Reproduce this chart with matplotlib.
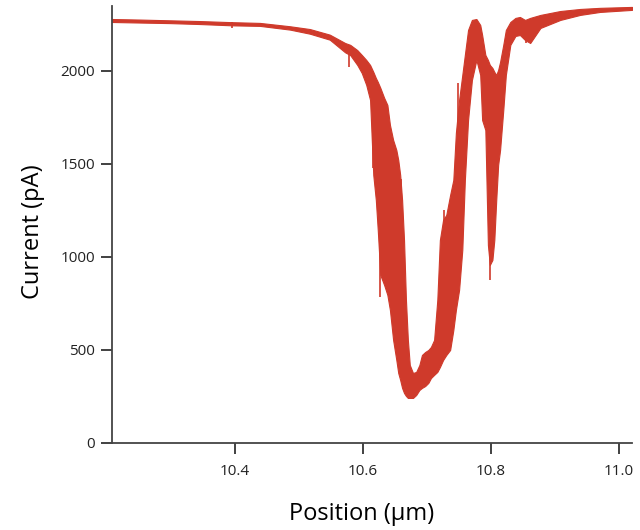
import numpy as np
import matplotlib
matplotlib.use("Agg")
import matplotlib.pyplot as plt

plt.rcParams['font.family'] = ['Open Sans', 'DejaVu Sans']

# position (um) and the noisy band of the current trace (pA)
position = [10.208, 10.252, 10.298, 10.345, 10.395, 10.439, 10.486, 10.517, 10.548,
            10.572, 10.580, 10.591, 10.598, 10.605, 10.611, 10.616, 10.620, 10.623,
            10.627, 10.633, 10.638, 10.642, 10.647, 10.652, 10.655, 10.658, 10.661,
            10.664, 10.667, 10.670, 10.673, 10.678, 10.683, 10.688, 10.692, 10.697,
            10.702, 10.706, 10.711, 10.716, 10.720, 10.725, 10.730, 10.736, 10.741,
            10.745, 10.750, 10.755, 10.759, 10.764, 10.770, 10.777, 10.783, 10.786,
            10.791, 10.795, 10.798, 10.802, 10.805, 10.808, 10.811, 10.814, 10.819,
            10.823, 10.830, 10.838, 10.845, 10.853, 10.861, 10.877, 10.908, 10.939,
            10.970, 11.020]
current_high = [2279, 2276, 2272, 2268, 2262, 2258, 2240, 2225, 2195,
                2150, 2140, 2112, 2086, 2059, 2032, 1995, 1962, 1941,
                1909, 1855, 1817, 1710, 1629, 1575, 1521, 1441, 1306,
                1091, 769, 554, 419, 376, 382, 419, 473, 489,
                500, 516, 554, 769, 1091, 1199, 1226, 1333, 1414,
                1667, 1844, 1978, 2086, 2220, 2274, 2279, 2247, 2193,
                2086, 2059, 2032, 2016, 1995, 1978, 2005, 2048, 2140,
                2220, 2263, 2285, 2290, 2274, 2285, 2301, 2322, 2333,
                2339, 2344]
current_low = [2263, 2260, 2257, 2252, 2245, 2242, 2222, 2200, 2168,
               2100, 2085, 2032, 1989, 1925, 1844, 1441, 1306, 1145,
               903, 849, 796, 715, 554, 446, 376, 339, 296,
               269, 253, 242, 242, 242, 258, 285, 296, 306,
               323, 349, 366, 382, 408, 446, 473, 500, 607,
               715, 823, 1038, 1414, 1736, 1951, 2059, 1978, 1736,
               1682, 1064, 957, 984, 1091, 1306, 1495, 1575, 1790,
               1978, 2140, 2188, 2193, 2166, 2150, 2231, 2274, 2301,
               2317, 2328]

# isolated spikes: position, top and bottom of the stroke
spike_x = [10.395, 10.578, 10.615, 10.627, 10.660, 10.726, 10.749, 10.798, 10.855]
spike_top = [2262, 2120, 1995, 1909, 1420, 1250, 1935, 2032, 2250]
spike_bottom = [2232, 2021, 1478, 785, 1000, 600, 1500, 876, 2150]

red = '#cf3a2b'

fig = plt.figure(figsize=(6.4, 5.3), dpi=100)
ax = fig.add_axes([0.175, 0.1642, 0.8125, 0.8245])

ax.fill_between(position, current_low, current_high, color=red, lw=0.8, edgecolor=red)
ax.vlines(spike_x, spike_bottom, spike_top, color=red, lw=1.2)

ax.set_xlim(10.208, 11.020)
ax.set_ylim(0, 2349)
ax.set_xticks([10.4, 10.6, 10.8, 11.0])
ax.set_xticklabels(['10.4', '10.6', '10.8', '11.0'])
ax.set_yticks([0, 500, 1000, 1500, 2000])

for side in ['top', 'right']:
    ax.spines[side].set_visible(False)
for side in ['left', 'bottom']:
    ax.spines[side].set_color('#444444')
    ax.spines[side].set_linewidth(1.3)
ax.tick_params(axis='both', direction='out', length=8, width=1.3, color='#333333',
               labelsize=11, labelcolor='#222222')
ax.tick_params(axis='x', pad=7)
ax.tick_params(axis='y', pad=4)

ax.set_xlabel('Position (\u00b5m)', fontsize=17)
ax.set_ylabel('Current (pA)', fontsize=17)
ax.xaxis.set_label_coords(0.479, -0.136)
ax.yaxis.set_label_coords(-0.129, 0.483)

fig.savefig('out.png', dpi=100)
